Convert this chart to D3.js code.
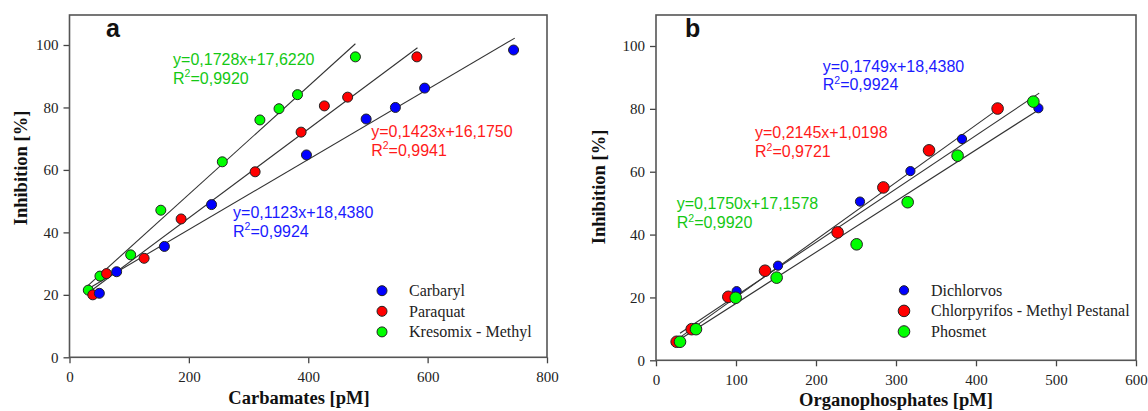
<!DOCTYPE html>
<html>
<head>
<meta charset="utf-8">
<script src="https://cdnjs.cloudflare.com/ajax/libs/d3/7.8.5/d3.min.js"></script>
<style>
  html, body { margin: 0; padding: 0; background: #fff; }
  svg { display: block; }
</style>
</head>
<body>
<svg id="chart" width="1148" height="411"></svg>
<script>
// ---------- Panel a : Carbamates ----------
const carbarylX  = [50, 79, 159, 238, 397, 497, 546, 595, 744];
const carbarylY  = [20.5, 27.4, 35.5, 48.9, 64.8, 76.3, 80.0, 86.2, 98.4];
const paraquatX  = [39, 62, 125, 187, 311, 388, 427, 466, 582];
const paraquatY  = [20.0, 26.8, 31.7, 44.3, 59.4, 72.1, 80.5, 83.3, 96.2];
const kresomixX  = [31.5, 51, 102.5, 153, 256, 319, 351, 382, 479];
const kresomixY  = [21.5, 26.0, 32.8, 47.1, 62.6, 76.0, 79.6, 84.1, 96.2];
// regression line end points [x0, y0, x1, y1]
const carbarylFit = [35, 22.37, 746, 102.2];
const paraquatFit = [35, 21.16, 583, 99.1];
const kresomixFit = [28, 22.46, 479, 100.4];
const carbarylEq = ["y=0,1123x+18,4380", "0,9924"];
const paraquatEq = ["y=0,1423x+16,1750", "0,9941"];
const kresomixEq = ["y=0,1728x+17,6220", "0,9920"];
const namesA = ["Carbaryl", "Paraquat", "Kresomix - Methyl"];
const xTicksA = [0, 200, 400, 600, 800];

// ---------- Panel b : Organophosphates ----------
const dichlorvosX   = [100.8, 152.5, 255, 318, 382.5, 478];
const dichlorvosY   = [22.0, 30.1, 50.5, 60.2, 70.4, 80.2];
const chlorpyrifosX = [25.8, 44.6, 90.4, 136.3, 227, 284.2, 341.3, 427];
const chlorpyrifosY = [5.9, 9.9, 20.2, 28.5, 40.7, 55.0, 66.8, 80.1];
const phosmetX      = [30, 50, 99.6, 150.8, 250.8, 314.6, 377, 471.7];
const phosmetY      = [5.9, 9.9, 19.9, 26.3, 36.9, 50.3, 65.1, 82.3];
const dichlorvosFit   = [30, 8.6, 479, 85.0];
const chlorpyrifosFit = [30, 7.3, 428, 80.0];
const phosmetFit      = [33, 7.2, 474.6, 79.1];
const dichlorvosEq   = ["y=0,1749x+18,4380", "0,9924"];
const chlorpyrifosEq = ["y=0,2145x+1,0198", "0,9721"];
const phosmetEq      = ["y=0,1750x+17,1578", "0,9920"];
const namesB = ["Dichlorvos", "Chlorpyrifos - Methyl Pestanal", "Phosmet"];
const xTicksB = [0, 100, 200, 300, 400, 500, 600];

const yTicks = [0, 20, 40, 60, 80, 100];

const dotBlue = "#0000ff", dotRed = "#ff0000", dotGreen = "#00ff00";
const txtBlue = "#1a1aff", txtRed = "#ff1a1a", txtGreen = "#14c814";

const svg = d3.select("#chart");
svg.append("rect").attr("width", 1148).attr("height", 411).attr("fill", "#fff");

function zip(xs, ys) { return xs.map((x, i) => [x, ys[i]]); }

function drawPanel(cfg) {
  const g = svg.append("g");
  const x = d3.scaleLinear().domain(cfg.xDomain).range([cfg.left, cfg.right]);
  const y = d3.scaleLinear().domain([0, 110]).range([cfg.bottom, cfg.bottom - 110 * cfg.yUnit]);

  // axes
  const xa = g.append("g").attr("transform", `translate(0,${cfg.bottom})`)
    .call(d3.axisBottom(x).tickValues(cfg.xTicks).tickSize(6).tickPadding(8).tickFormat(d3.format("d")));
  const ya = g.append("g").attr("transform", `translate(${cfg.left},0)`)
    .call(d3.axisLeft(y).tickValues(yTicks).tickSize(6).tickPadding(5).tickFormat(d3.format("d")));
  [xa, ya].forEach(a => {
    a.select(".domain").remove();
    a.selectAll("line").attr("stroke", "#444").attr("stroke-width", 1.3);
    a.selectAll("text").attr("font-family", "'Liberation Serif', 'Times New Roman', serif")
      .attr("font-size", 15).attr("fill", "#222");
  });

  // frame
  g.append("rect").attr("x", cfg.left).attr("y", 15)
    .attr("width", cfg.right - cfg.left).attr("height", cfg.bottom - 15)
    .attr("fill", "none").attr("stroke", "#555").attr("stroke-width", 1.6);

  // fit lines
  cfg.series.forEach(s => {
    g.append("line")
      .attr("x1", x(s.fit[0])).attr("y1", y(s.fit[1]))
      .attr("x2", x(s.fit[2])).attr("y2", y(s.fit[3]))
      .attr("stroke", "#333").attr("stroke-width", 1.1);
  });

  // points
  cfg.drawOrder.forEach(i => {
    const s = cfg.series[i];
    g.selectAll(null).data(zip(s.xs, s.ys)).enter().append("circle")
      .attr("cx", d => x(d[0])).attr("cy", d => y(d[1])).attr("r", s.r)
      .attr("fill", s.color).attr("stroke", "#222").attr("stroke-width", 1);
  });

  // equations
  cfg.series.forEach(s => {
    const t = g.append("text").attr("x", x(s.eqPos[0])).attr("y", y(s.eqPos[1]))
      .attr("font-family", "'Liberation Sans', Arial, sans-serif").attr("font-size", 16)
      .attr("fill", s.txt);
    t.append("tspan").text(s.eq[0]);
    const t2 = g.append("text").attr("x", x(s.eqPos[0])).attr("y", y(s.eqPos[1]) + 18.7)
      .attr("font-family", "'Liberation Sans', Arial, sans-serif").attr("font-size", 16)
      .attr("fill", s.txt);
    t2.append("tspan").text("R");
    t2.append("tspan").attr("font-size", 10.5).attr("dy", -6.5).text("2");
    t2.append("tspan").attr("dy", 6.5).text("=" + s.eq[1]);
  });

  // legend
  cfg.series.forEach((s, i) => {
    const ly = cfg.legend[1] + i * 20.6;
    g.append("circle").attr("cx", cfg.legend[0]).attr("cy", ly).attr("r", s.r)
      .attr("fill", s.color).attr("stroke", "#222").attr("stroke-width", 1);
    g.append("text").attr("x", cfg.legend[0] + 27).attr("y", ly).attr("dy", "0.33em")
      .attr("font-family", "'Liberation Serif', 'Times New Roman', serif").attr("font-size", 16)
      .attr("fill", "#222").text(s.name);
  });

  // panel letter
  g.append("text").attr("x", cfg.letterPos[0]).attr("y", 37)
    .attr("font-family", "'Liberation Sans', Arial, sans-serif").attr("font-weight", "bold")
    .attr("font-size", 25).attr("fill", "#111").text(cfg.letter);

  // axis titles
  g.append("text").attr("x", cfg.xTitlePos[0]).attr("y", cfg.xTitlePos[1]).attr("text-anchor", "middle")
    .attr("font-family", "'Liberation Serif', 'Times New Roman', serif").attr("font-weight", "bold")
    .attr("font-size", 18.5).attr("fill", "#111").text(cfg.xTitle);
  g.append("text").attr("transform", `translate(${cfg.yTitlePos[0]},${cfg.yTitlePos[1]}) rotate(-90)`)
    .attr("text-anchor", "middle").attr("dy", "0.35em")
    .attr("font-family", "'Liberation Serif', 'Times New Roman', serif").attr("font-weight", "bold")
    .attr("font-size", 18.5).attr("fill", "#111").text("Inhibition [%]");
}

drawPanel({
  left: 69.5, right: 547, bottom: 357.3, yUnit: 3.123,
  xDomain: [0, 800], xTicks: xTicksA,
  series: [
    { xs: carbarylX, ys: carbarylY, fit: carbarylFit, eq: carbarylEq, eqPos: [274, 44.6], color: dotBlue, txt: txtBlue, name: namesA[0], r: 5 },
    { xs: paraquatX, ys: paraquatY, fit: paraquatFit, eq: paraquatEq, eqPos: [505.4, 70.6], color: dotRed, txt: txtRed, name: namesA[1], r: 5 },
    { xs: kresomixX, ys: kresomixY, fit: kresomixFit, eq: kresomixEq, eqPos: [173.5, 93.6], color: dotGreen, txt: txtGreen, name: namesA[2], r: 5 }
  ],
  drawOrder: [2, 1, 0],
  legend: [382, 290.7],
  letter: "a", letterPos: [106, 37],
  xTitle: "Carbamates [pM]", xTitlePos: [299, 404],
  yTitlePos: [21, 168]
});

drawPanel({
  left: 656, right: 1136, bottom: 360.3, yUnit: 3.143,
  xDomain: [0, 600], xTicks: xTicksB,
  series: [
    { xs: dichlorvosX, ys: dichlorvosY, fit: dichlorvosFit, eq: dichlorvosEq, eqPos: [208.4, 91.8], color: dotBlue, txt: txtBlue, name: namesB[0], r: 4.6 },
    { xs: chlorpyrifosX, ys: chlorpyrifosY, fit: chlorpyrifosFit, eq: chlorpyrifosEq, eqPos: [123.75, 70.6], color: dotRed, txt: txtRed, name: namesB[1], r: 5.8 },
    { xs: phosmetX, ys: phosmetY, fit: phosmetFit, eq: phosmetEq, eqPos: [25.9, 48.0], color: dotGreen, txt: txtGreen, name: namesB[2], r: 5.8 }
  ],
  drawOrder: [0, 1, 2],
  legend: [904, 290.3],
  letter: "b", letterPos: [685, 37],
  xTitle: "Organophosphates [pM]", xTitlePos: [896, 406],
  yTitlePos: [599, 187]
});
</script>
</body>
</html>
